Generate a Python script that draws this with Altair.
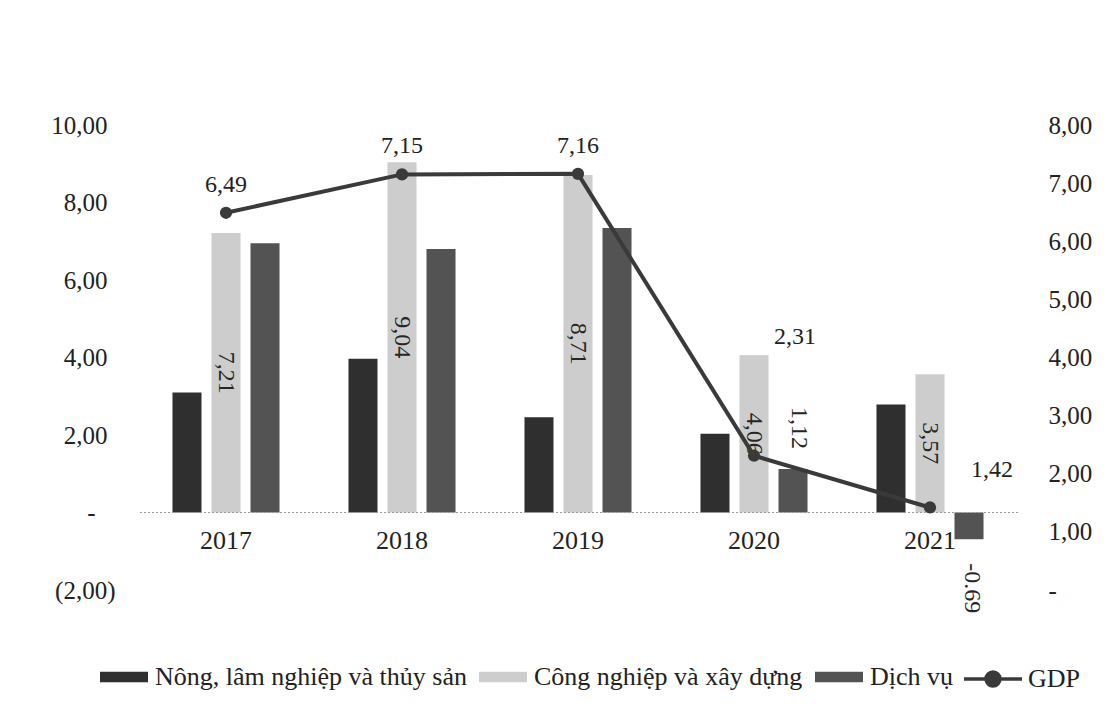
import altair as alt
import pandas as pd

# Growth rates by sector (%), left axis
years = ["2017", "2018", "2019", "2020", "2021"]
sectors = ["Nông, lâm nghiệp và thủy sản", "Công nghiệp và xây dựng", "Dịch vụ"]
agri = [3.10, 3.97, 2.46, 2.03, 2.79]
industry = [7.21, 9.04, 8.71, 4.06, 3.57]
services = [6.95, 6.80, 7.34, 1.12, -0.69]
# GDP growth (%), right axis
gdp = [6.49, 7.15, 7.16, 2.31, 1.42]

sector_colors = ["#2f2f2f", "#cdcdcd", "#535353"]
gdp_color = "#3a3a3a"
FONT = "Liberation Serif"
TXT = "#222222"


def vn_num(v):
    return f"{v:.2f}".replace(".", ",")


rows = []
for i, y in enumerate(years):
    for s, series in zip(sectors, [agri, industry, services]):
        rows.append({"year": y, "sector": s, "value": series[i]})
bars_df = pd.DataFrame(rows)

ind_df = pd.DataFrame({"year": years, "sector": sectors[1], "value": industry})
ind_df["label"] = [vn_num(v) for v in industry]

svc_df = pd.DataFrame({"year": years, "sector": sectors[2], "value": services})
svc_df["label"] = [vn_num(v) if v >= 0 else f"{v:.2f}" for v in services]

gdp_df = pd.DataFrame({"year": years, "gdp": gdp, "name": "GDP"})
gdp_df["label"] = [vn_num(v) for v in gdp]

x_enc = alt.X(
    "year:N",
    scale=alt.Scale(domain=years, paddingInner=0.335, paddingOuter=0.1675),
    axis=alt.Axis(offset=-64, labelPadding=1, labelAngle=0, title=None,
                  labelFontSize=26),
)
xoff = alt.XOffset("sector:N",
                   scale=alt.Scale(domain=sectors, paddingInner=0.256, paddingOuter=0.128))

# accounting-style labels: "-" for zero, parentheses for negatives
left_labels = (
    "datum.value == 0 ? '-' : (datum.value < 0 ? "
    "'(' + replace(format(-datum.value, '.2f'), '.', ',') + ')' : "
    "replace(format(datum.value, '.2f'), '.', ','))"
)
right_labels = (
    "datum.value == 0 ? '-' : replace(format(datum.value, '.2f'), '.', ',')"
)

y_left_scale = alt.Scale(domain=[-2, 10], nice=False, zero=False)
y_right_scale = alt.Scale(domain=[0, 8], nice=False, zero=False)

rect_path = "M-1,-0.22H1V0.22H-1Z"
gdp_path = "M-1,0H-0.24M0.24,0H1M0.24,0A0.24,0.24,0,1,1,-0.24,0A0.24,0.24,0,1,1,0.24,0Z"

bars = alt.Chart(bars_df).mark_bar().encode(
    x=x_enc,
    xOffset=xoff,
    y=alt.Y("value:Q", scale=y_left_scale,
            axis=alt.Axis(
                values=[-2, 0, 2, 4, 6, 8, 10], labelExpr=left_labels, title=None,
                labelPadding={"condition": [
                    {"test": "datum.value == 0", "value": 43},
                    {"test": "datum.value < 0", "value": 23},
                ], "value": 31},
            )),
    color=alt.Color(
        "sector:N",
        scale=alt.Scale(domain=sectors, range=sector_colors),
        legend=alt.Legend(
            orient="none", legendX=-38, legendY=528, direction="horizontal",
            columns=3, title=None, symbolType=rect_path, symbolSize=2304,
            symbolStrokeWidth=0, labelFont=FONT, labelFontSize=26,
            labelColor=TXT, labelOffset=7, columnPadding=12,
            labelLimit=500,
        ),
    ),
)

zero_rule = alt.Chart(pd.DataFrame({"z": [0]})).mark_rule(
    color="#9a9a9a", strokeDash=[2, 2], strokeWidth=1
).encode(y=alt.Y("z:Q", scale=y_left_scale))

# Industry values printed vertically inside the bars
ind_text = alt.Chart(ind_df).transform_calculate(mid="datum.value / 2").mark_text(
    angle=90, align="center", baseline="middle", font=FONT, fontSize=24, color="#262626"
).encode(x=x_enc, xOffset=xoff, y=alt.Y("mid:Q", scale=y_left_scale), text="label:N")

svc_pos = alt.Chart(svc_df).transform_filter("datum.year == '2020'").mark_text(
    angle=90, align="right", baseline="middle", dx=-20, dy=-6, font=FONT, fontSize=24,
    color="#262626"
).encode(x=x_enc, xOffset=xoff, y=alt.Y("value:Q", scale=y_left_scale), text="label:N")

svc_neg = alt.Chart(svc_df).transform_filter("datum.value < 0").mark_text(
    angle=90, align="left", baseline="middle", dx=24, dy=-3, font=FONT, fontSize=24,
    color="#262626"
).encode(x=x_enc, xOffset=xoff, y=alt.Y("value:Q", scale=y_left_scale), text="label:N")

left = alt.layer(bars, zero_rule, ind_text, svc_pos, svc_neg)

y_right = alt.Y("gdp:Q", scale=y_right_scale,
                axis=alt.Axis(orient="right", values=list(range(0, 9)),
                              labelExpr=right_labels, labelPadding=30, title=None))

gdp_line = alt.Chart(gdp_df).mark_line(strokeWidth=4).encode(
    x=x_enc, y=y_right,
    color=alt.Color(
        "name:N", scale=alt.Scale(domain=["GDP"], range=[gdp_color]),
        legend=alt.Legend(
            orient="none", legendX=824, legendY=523, title=None,
            symbolType=gdp_path, symbolSize=3364, symbolStrokeWidth=3.5,
            symbolFillColor=gdp_color, symbolStrokeColor=gdp_color,
            labelFont=FONT, labelFontSize=26, labelColor=TXT, labelOffset=4,
        ),
    ),
)
gdp_pts = alt.Chart(gdp_df).mark_point(filled=True, size=150, opacity=1).encode(
    x=x_enc, y=y_right,
    color=alt.Color("name:N", scale=alt.Scale(domain=["GDP"], range=[gdp_color]))
)

lbl_style = dict(font=FONT, fontSize=24, color=TXT, baseline="middle", align="center")
gdp_lbl_top = alt.Chart(gdp_df).transform_filter("toNumber(datum.year) <= 2019").mark_text(
    dy=-28, **lbl_style
).encode(x=x_enc, y=y_right, text="label:N")
gdp_lbl_2020 = alt.Chart(gdp_df).transform_filter("datum.year == '2020'").mark_text(
    dx=41, dy=-119, **lbl_style
).encode(x=x_enc, y=y_right, text="label:N")
gdp_lbl_2021 = alt.Chart(gdp_df).transform_filter("datum.year == '2021'").mark_text(
    dx=62, dy=-37, **lbl_style
).encode(x=x_enc, y=y_right, text="label:N")

right = alt.layer(gdp_line, gdp_pts, gdp_lbl_top, gdp_lbl_2020, gdp_lbl_2021)

chart = (
    alt.layer(left, right)
    .resolve_scale(y="independent", color="independent")
    .properties(
        width=880, height=465,
        autosize=alt.AutoSizeParams(type="none"),
        padding={"left": 138, "top": 125, "right": 102, "bottom": 126},
        background="white",
    )
    .configure_view(stroke=None)
    .configure_axis(labelFont=FONT, labelFontSize=25, labelColor=TXT,
                    domain=False, ticks=False, grid=False)
)

chart.save("out.html", embed_options={"renderer": "svg", "actions": False})
